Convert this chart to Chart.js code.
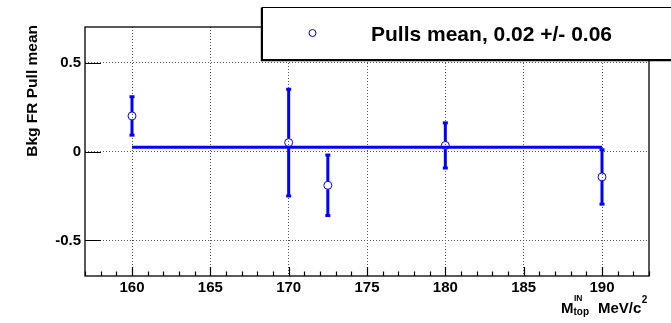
<!DOCTYPE html>
<html>
<head>
<meta charset="utf-8">
<script src="https://cdn.jsdelivr.net/npm/chart.js@4/dist/chart.umd.min.js"></script>
<style>
  html, body { margin: 0; padding: 0; background: #ffffff; }
  #wrap { width: 671px; height: 323px; }
</style>
</head>
<body>
<div id="wrap"><canvas id="c" width="671" height="323"></canvas></div>
<script>
// Pull means of the background fraction versus the generated top mass
const masses = [160, 170, 172.5, 180, 190];
const pullMeans = [0.20, 0.05, -0.19, 0.034, -0.143];
const pullErrors = [0.108, 0.30, 0.17, 0.127, 0.153];

// Constant fit over all mass points
const fitMean = 0.024;
const fitError = 0.06;
const fitRange = [160, 190];

// Axis ranges and labelled ticks
const xRange = [157, 193];
const xMajorTicks = [160, 165, 170, 175, 180, 185, 190];
const yRange = [-0.7, 0.7];
const yMajorTicks = [-0.5, 0, 0.5];
const yTickLabels = ['-0.5', '0', '0.5'];

const BLUE = '#0000ff';
const FONT = "'Liberation Sans', Arial, Helvetica, sans-serif";

const pointData = masses.map((m, i) => ({ x: m, y: pullMeans[i] }));
const fitData = fitRange.map(m => ({ x: m, y: fitMean }));

// Error bars with end caps, leaving a gap around each open marker
const errorBars = {
  id: 'errorBars',
  afterDatasetsDraw(chart) {
    const xs = chart.scales.x, ys = chart.scales.y, ctx = chart.ctx;
    const r = 4;
    ctx.save();
    ctx.strokeStyle = BLUE;
    ctx.fillStyle = BLUE;
    masses.forEach((m, i) => {
      const px = xs.getPixelForValue(m);
      const py = ys.getPixelForValue(pullMeans[i]);
      const top = ys.getPixelForValue(pullMeans[i] + pullErrors[i]);
      const bot = ys.getPixelForValue(pullMeans[i] - pullErrors[i]);
      ctx.lineWidth = 3;
      ctx.beginPath();
      if (py - r > top) { ctx.moveTo(px, top); ctx.lineTo(px, py - r); }
      if (py + r < bot) { ctx.moveTo(px, py + r); ctx.lineTo(px, bot); }
      ctx.stroke();
      ctx.fillRect(px - 2.5, top - 1.5, 5, 3);
      ctx.fillRect(px - 2.5, bot - 1.5, 5, 3);
    });
    ctx.restore();
  }
};

// Frame, tick marks, axis titles and the legend box
const decorations = {
  id: 'decorations',
  afterDraw(chart) {
    const { ctx, chartArea: a } = chart;
    const xs = chart.scales.x, ys = chart.scales.y;
    ctx.save();
    // frame
    ctx.strokeStyle = '#000';
    ctx.lineWidth = 1.3;
    ctx.strokeRect(a.left, a.top, a.right - a.left, a.bottom - a.top);

    // x tick marks: major every 5, minor every 1
    ctx.lineWidth = 1.2;
    ctx.beginPath();
    for (let v = Math.ceil(xRange[0]); v <= xRange[1]; v++) {
      const px = Math.round(xs.getPixelForValue(v)) + 0.5;
      const len = (v % 5 === 0) ? 9 : 4.5;
      ctx.moveTo(px, a.bottom);
      ctx.lineTo(px, a.bottom - len);
    }
    // y tick marks
    yMajorTicks.forEach(v => {
      const py = Math.round(ys.getPixelForValue(v)) + 0.5;
      ctx.moveTo(a.left, py);
      ctx.lineTo(a.left + 16, py);
    });
    ctx.stroke();

    // y axis title, aligned to the top of the axis
    ctx.fillStyle = '#000';
    ctx.font = 'bold 15.5px ' + FONT;
    ctx.save();
    ctx.translate(36.5, 25);
    ctx.rotate(-Math.PI / 2);
    ctx.textAlign = 'right';
    ctx.textBaseline = 'alphabetic';
    ctx.fillText('Bkg FR Pull mean', 0, 0);
    ctx.restore();

    // x axis title: M_top^IN  MeV/c^2
    ctx.textAlign = 'left';
    ctx.textBaseline = 'alphabetic';
    let x = 561;
    ctx.font = 'bold 15px ' + FONT;
    ctx.fillText('M', x, 313);
    x += ctx.measureText('M').width;
    ctx.font = 'bold 10px ' + FONT;
    ctx.fillText('top', x, 314.5);
    const wTop = ctx.measureText('top').width;
    ctx.font = 'bold 8.5px ' + FONT;
    ctx.fillText('IN', x + 0.5, 301);
    x = 598;
    ctx.font = 'bold 15px ' + FONT;
    ctx.fillText('MeV/c', x, 313);
    x += ctx.measureText('MeV/c').width + 0.5;
    ctx.font = 'bold 10px ' + FONT;
    ctx.fillText('2', x, 302.5);

    // legend box with shadow on left and bottom
    const lx = 262, ly = 7, lw = 430, lh = 52;
    ctx.fillStyle = '#fff';
    ctx.fillRect(lx, ly, lw, lh);
    ctx.strokeStyle = '#000';
    ctx.lineWidth = 1;
    ctx.strokeRect(lx + 0.5, ly + 0.5, lw, lh);
    ctx.lineWidth = 1.2;
    ctx.beginPath();
    ctx.moveTo(lx - 0.6, ly + 0.5);
    ctx.lineTo(lx - 0.6, ly + lh + 1.6);
    ctx.lineTo(lx + lw, ly + lh + 1.6);
    ctx.stroke();

    // legend marker and text
    ctx.strokeStyle = BLUE;
    ctx.lineWidth = 1;
    ctx.beginPath();
    ctx.arc(312.5, 33, 3.5, 0, Math.PI * 2);
    ctx.stroke();
    ctx.fillStyle = '#000';
    ctx.font = 'bold 21px ' + FONT;
    ctx.fillText('Pulls mean, ' + fitMean.toFixed(2) + ' +/- ' + fitError.toFixed(2), 371, 41);
    ctx.restore();
  }
};

new Chart(document.getElementById('c'), {
  type: 'scatter',
  data: {
    datasets: [
      {
        type: 'line',
        data: fitData,
        borderColor: BLUE,
        borderWidth: 3,
        pointRadius: 0,
        fill: false,
        order: 2
      },
      {
        data: pointData,
        pointStyle: 'circle',
        pointRadius: 4,
        pointBorderWidth: 1,
        pointBorderColor: BLUE,
        pointBackgroundColor: 'rgba(0,0,0,0)',
        showLine: false,
        order: 1
      }
    ]
  },
  options: {
    responsive: false,
    animation: false,
    events: [],
    layout: { padding: { top: 27, right: 22, left: 0, bottom: 0 } },
    plugins: { legend: { display: false }, tooltip: { enabled: false }, title: { display: false } },
    scales: {
      x: {
        type: 'linear',
        min: xRange[0],
        max: xRange[1],
        afterFit(s) { s.height = 47; },
        border: { display: false, dash: [1, 2] },
        grid: {
          drawTicks: false,
          lineWidth: 1,
          color: c => (c.tick && xMajorTicks.includes(c.tick.value)) ? '#555' : 'rgba(0,0,0,0)'
        },
        ticks: {
          stepSize: 1,
          autoSkip: false,
          maxRotation: 0,
          padding: 3,
          color: '#000',
          font: { family: FONT, size: 15, weight: 'bold' },
          callback: v => xMajorTicks.includes(v) ? String(v) : ''
        }
      },
      y: {
        type: 'linear',
        min: yRange[0],
        max: yRange[1],
        afterFit(s) { s.width = 85; },
        border: { display: false, dash: [1, 2] },
        grid: {
          drawTicks: false,
          lineWidth: 1,
          color: c => (c.tick && yMajorTicks.some(t => Math.abs(t - c.tick.value) < 1e-9)) ? '#555' : 'rgba(0,0,0,0)'
        },
        ticks: {
          stepSize: 0.5,
          includeBounds: false,
          padding: 4,
          color: '#000',
          font: { family: FONT, size: 15, weight: 'bold' },
          callback: v => {
            const i = yMajorTicks.findIndex(t => Math.abs(t - v) < 1e-9);
            return i >= 0 ? yTickLabels[i] : '';
          }
        }
      }
    }
  },
  plugins: [errorBars, decorations]
});
</script>
</body>
</html>
